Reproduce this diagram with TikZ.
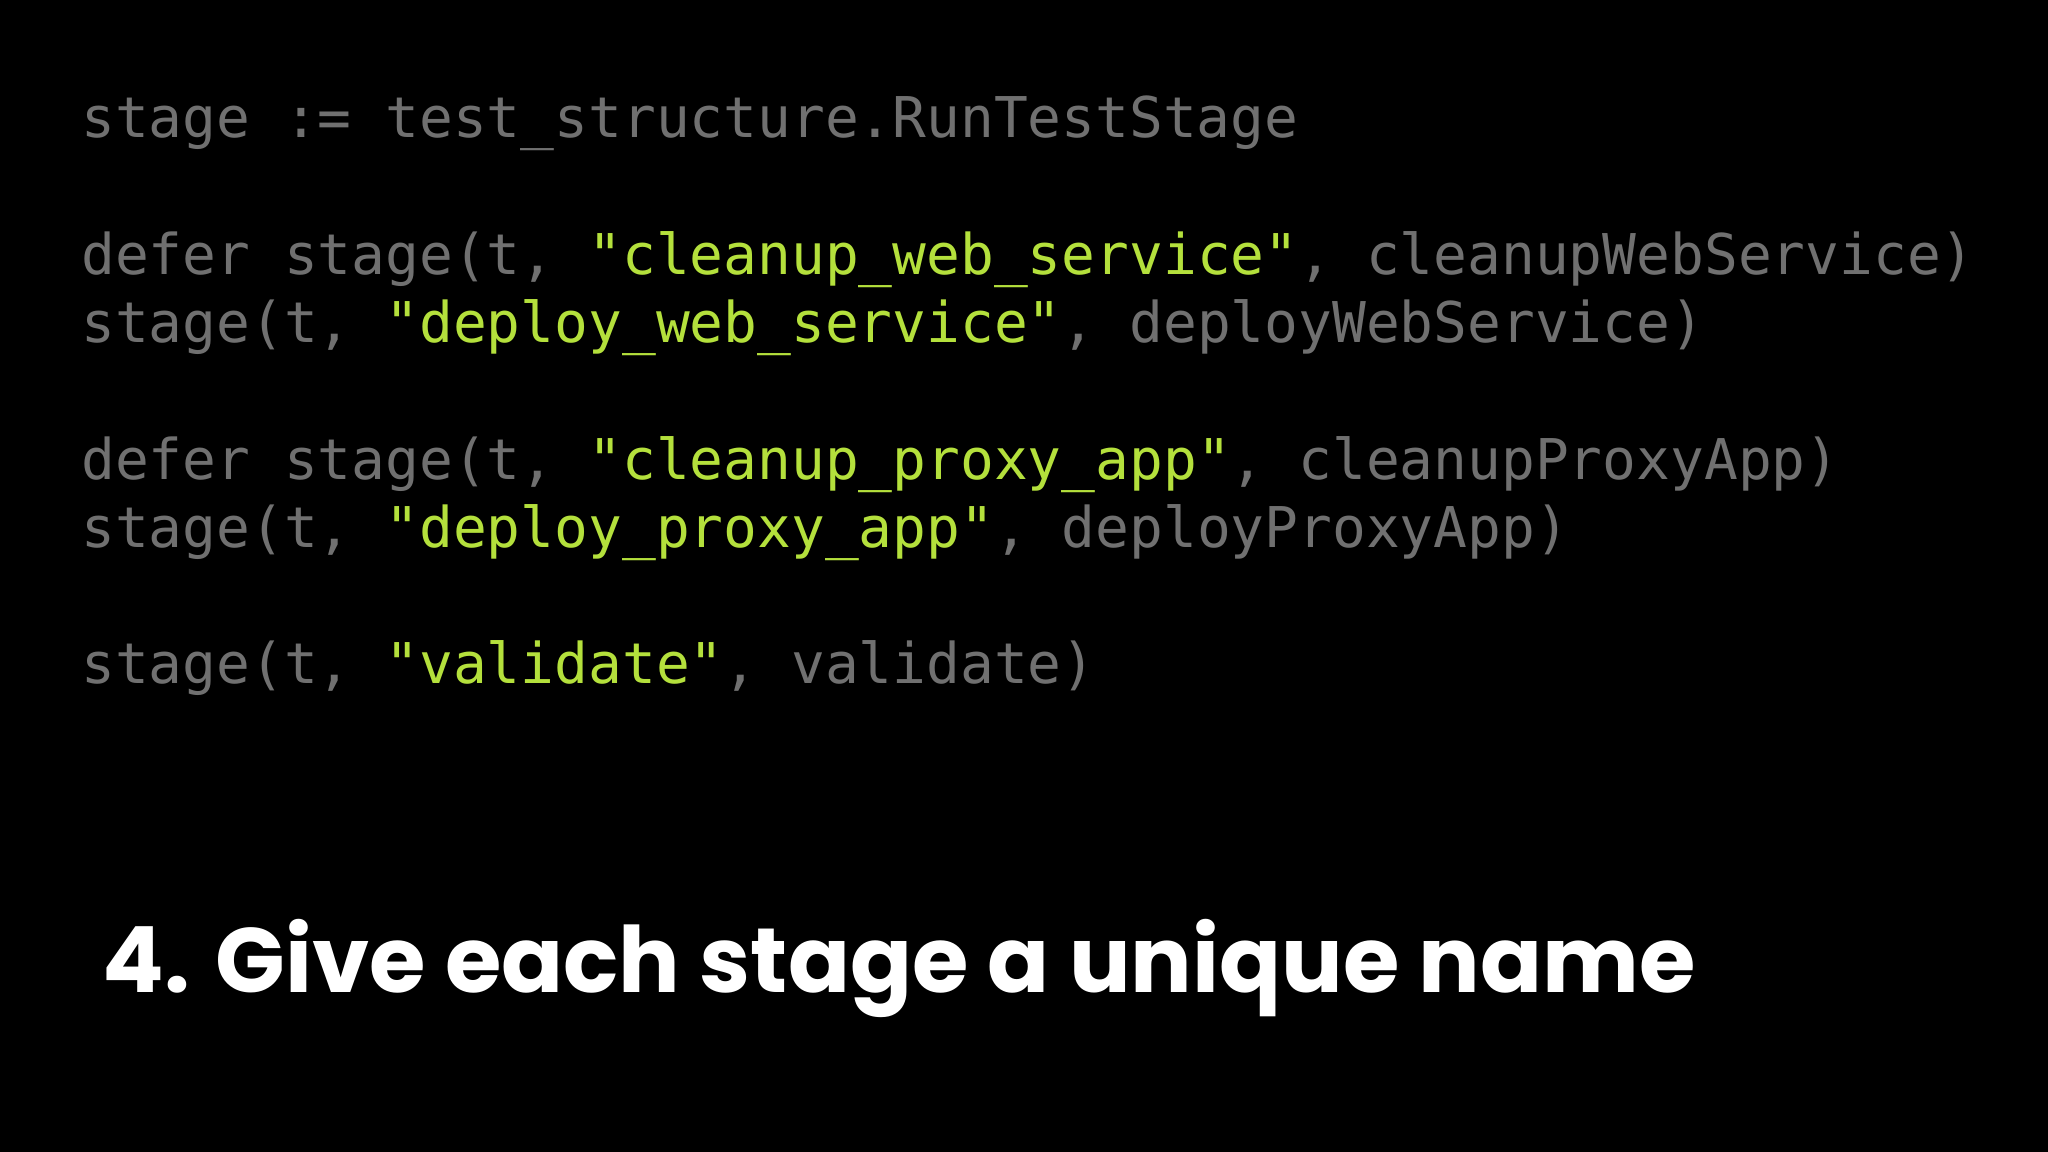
\documentclass[tikz,border=0pt]{standalone}
\usepackage{fontspec}
\newfontfamily\codefont{DejaVu Sans Mono}
\newfontfamily\titlefont[Scale=1]{Poppins Bold}
\definecolor{cg}{HTML}{707070}
\definecolor{cgreen}{HTML}{B4E03C}
\newcommand{\gs}[1]{\textcolor{cgreen}{#1}}
\tikzset{code/.style={anchor=base west,inner sep=0,text=cg,font=\codefont\fontsize{43}{43}\selectfont},
title/.style={anchor=base west,inner sep=0,text=white,font=\titlefont\fontsize{70}{70}\selectfont}}
\begin{document}
\begin{tikzpicture}[x=1pt,y=-1pt]
\fill[black] (0,0) rectangle (1568,882);
\useasboundingbox (0,0) rectangle (1568,882);
\node[code] (l1) at (62,105) {stage := test\_structure.RunTestStage};
\node[code] (l2) at (62,210) {defer stage(t, \gs{"cleanup\_web\_service"}, cleanupWebService)};
\node[code] (l3) at (62,262) {stage(t, \gs{"deploy\_web\_service"}, deployWebService)};
\node[code] (l4) at (62,367) {defer stage(t, \gs{"cleanup\_proxy\_app"}, cleanupProxyApp)};
\node[code] (l5) at (62,419) {stage(t, \gs{"deploy\_proxy\_app"}, deployProxyApp)};
\node[code] (l6) at (62,523) {stage(t, \gs{"validate"}, validate)};
\node[title] (t) at (78,760) {4. Give each stage a unique name};
\end{tikzpicture}
\end{document}
